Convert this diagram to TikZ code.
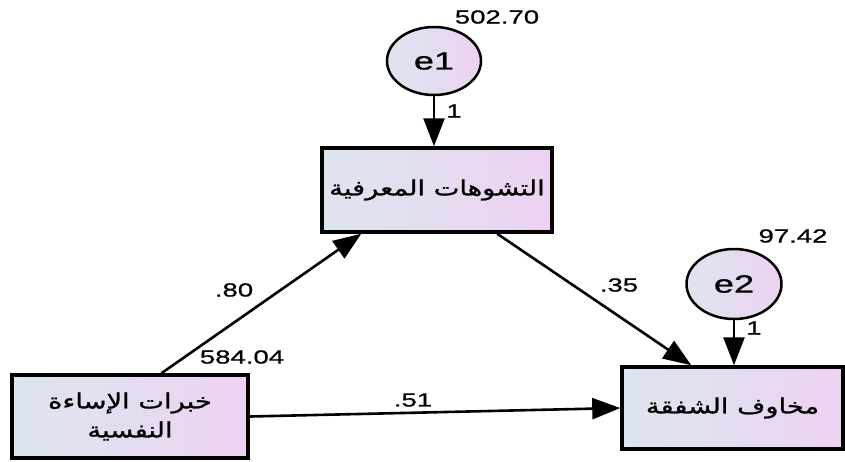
\documentclass[tikz,border=0pt]{standalone}
\usepackage{fontspec}
\setmainfont{Liberation Sans}[FakeStretch=1.45,FakeBold=0.8]
\newfontfamily\arabicfont[Script=Arabic,FakeStretch=1.3,FakeBold=1.0]{DejaVu Sans}
\TeXXeTstate=1
\usetikzlibrary{shapes.geometric,arrows.meta}
\definecolor{lc}{HTML}{DDE5EF}
\definecolor{rc}{HTML}{EDD2F1}
\tikzset{
  obs/.style={rectangle,draw=black,line width=3.5pt,left color=lc,right color=rc,inner sep=0pt,align=center,font=\arabicfont\fontsize{21}{29}\selectfont},
  err/.style={ellipse,draw=black,line width=2.5pt,left color=lc,right color=rc,inner sep=0pt,font=\fontsize{25}{27}\selectfont},
  arr/.style={line width=2.6pt,-{Triangle[length=28pt,width=21pt]}},
  num/.style={font=\fontsize{19}{22}\selectfont,inner sep=0pt}
}
\begin{document}
\begin{tikzpicture}[x=1pt,y=-1pt]
\useasboundingbox (0,0) rectangle (845,461);
\node[err,minimum width=94pt,minimum height=68pt] (e1) at (434,61) {e1};
\node[err,minimum width=95pt,minimum height=70pt] (e2) at (734,284) {e2};
\node[obs,minimum width=230pt,minimum height=84pt] (b1) at (437,190) {\beginR التشوهات المعرفية\endR};
\node[obs,minimum width=221pt,minimum height=82pt] (b3) at (732.5,408) {\beginR مخاوف الشفقة\endR};
\node[obs,minimum width=236pt,minimum height=83pt] (b4) at (130,416.5) {\beginR خبرات الإساءة\endR\\\beginR النفسية\endR};
\draw[arr] (e1.south) -- (e1.south |- b1.north);
\draw[arr] (e2.south) -- (e2.south |- b3.north);
\draw[arr] (b4.54) -- (b1.210);
\draw[arr] (b1.-36) -- (b3.134);
\draw[arr] (b4.east) -- (b3.west);
\node[num] (v1) at (497,17) {502.70};
\node[num] (v2) at (793,236) {97.42};
\node[num] (v3) at (242,357) {584.04};
\node[num] (p1) at (234,290) {.80};
\node[num] (p2) at (619,285) {.35};
\node[num] (p3) at (413,400) {.51};
\node[num] (w1) at (454,111) {1};
\node[num] (w2) at (754,328) {1};
\end{tikzpicture}
\end{document}
